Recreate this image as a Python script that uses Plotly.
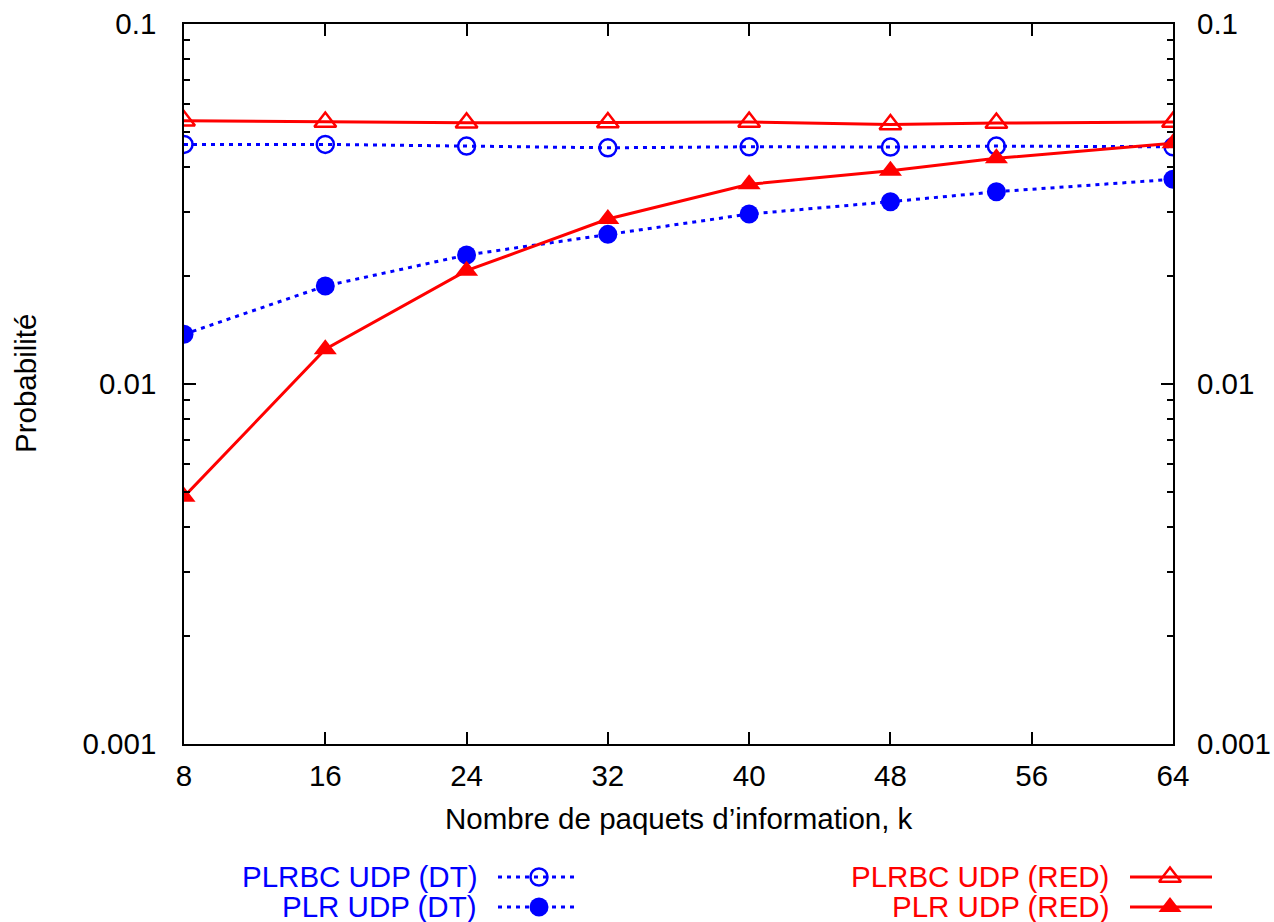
import plotly.graph_objects as go

# ---------------- data ----------------
k = [8, 16, 24, 32, 40, 48, 54, 64]
plrbc_dt = [0.0463, 0.0463, 0.0458, 0.0453, 0.0456, 0.0455, 0.0458, 0.0456]
plr_dt = [0.01374, 0.01872, 0.02282, 0.02604, 0.02966, 0.03209, 0.03420, 0.03703]
plrbc_red = [0.05385, 0.05340, 0.05316, 0.05323, 0.05340, 0.05256, 0.05309, 0.05340]
plr_red = [0.004863, 0.01249, 0.02064, 0.02872, 0.03586, 0.03913, 0.04236, 0.04662]

x_ticks = [8, 16, 24, 32, 40, 48, 56, 64]
y_ticks = [0.001, 0.01, 0.1]
y_ticktext = ["0.001", "0.01", "0.1"]
y_minor = [m * 10 ** e for e in (-3, -2) for m in range(2, 10)]

x_title = "Nombre de paquets d\u2019information, k"
y_title = "Probabilité"
legend_names = ["PLRBC UDP (DT)", "PLR UDP (DT)", "PLRBC UDP (RED)", "PLR UDP (RED)"]

# ---------------- layout geometry (pixels) ----------------
W, H = 1274, 922
PL, PR, PT, PB = 184, 1173, 24, 744
FONT = "Liberation Sans, Arial, sans-serif"
FS = 29.5
BLUE = "#0000ff"
RED = "#ff0000"


def fx(px):
    return px / W


def fy(py):
    return (H - py) / H


blue_line = dict(color=BLUE, width=3, dash="4px,5px")
red_line = dict(color=RED, width=3)

m_circ_open = dict(symbol="circle-open", size=17, color=BLUE, line=dict(width=2.5, color=BLUE))
m_circ = dict(symbol="circle", size=19, color=BLUE)
m_tri_open = dict(symbol="triangle-up-open", size=19, color=RED, line=dict(width=2.5, color=RED))
m_tri = dict(symbol="triangle-up", size=20, color=RED)

fig = go.Figure()

fig.add_trace(go.Scatter(x=k, y=plrbc_dt, mode="lines+markers", line=blue_line,
                         marker=m_circ_open, showlegend=False))
fig.add_trace(go.Scatter(x=k, y=plr_dt, mode="lines+markers", line=blue_line,
                         marker=m_circ, showlegend=False))
fig.add_trace(go.Scatter(x=k, y=plrbc_red, mode="lines+markers", line=red_line,
                         marker=m_tri_open, showlegend=False))
fig.add_trace(go.Scatter(x=k, y=plr_red, mode="lines+markers", line=red_line,
                         marker=m_tri, showlegend=False))
# invisible trace to activate right axis
fig.add_trace(go.Scatter(x=k, y=plr_dt, mode="lines", line=dict(width=0),
                         opacity=0, yaxis="y2", showlegend=False, hoverinfo="skip"))

# ---------------- custom legend (x3/y3 in pixel units) ----------------
leg_rows = [H - 877, H - 907]
leg_specs = [
    (legend_names[0], BLUE, blue_line, m_circ_open, 479, 498, 539, 576, leg_rows[0]),
    (legend_names[1], BLUE, blue_line, m_circ, 479, 498, 539, 576, leg_rows[1]),
    (legend_names[2], RED, red_line, m_tri_open, 1111, 1130, 1170, 1212, leg_rows[0]),
    (legend_names[3], RED, red_line, m_tri, 1111, 1130, 1170, 1212, leg_rows[1]),
]
annotations = []
for name, col, ln, mk, tx, x0, xm, x1, yr in leg_specs:
    fig.add_trace(go.Scatter(x=[x0, x1], y=[yr, yr], mode="lines", line=ln,
                             xaxis="x3", yaxis="y3", showlegend=False, hoverinfo="skip"))
    fig.add_trace(go.Scatter(x=[xm], y=[yr], mode="markers", marker=mk,
                             xaxis="x3", yaxis="y3", showlegend=False, hoverinfo="skip",
                             cliponaxis=False))
    annotations.append(dict(text=name, x=tx, y=yr, xref="x3", yref="y3",
                            xanchor="right", yanchor="middle", showarrow=False,
                            font=dict(family=FONT, size=FS, color=col)))

annotations.append(dict(text=x_title, x=fx((PL + PR) / 2), y=fy(818), xref="paper", yref="paper",
                        xanchor="center", yanchor="middle", showarrow=False,
                        font=dict(family=FONT, size=FS, color="black")))
annotations.append(dict(text=y_title, x=fx(25), y=fy((PT + PB) / 2), xref="paper", yref="paper",
                        xanchor="center", yanchor="middle", showarrow=False, textangle=-90,
                        font=dict(family=FONT, size=FS, color="black")))

tickfont = dict(family=FONT, size=FS, color="black")

fig.update_layout(
    width=W, height=H,
    margin=dict(l=0, r=0, t=0, b=0, autoexpand=False),
    paper_bgcolor="white", plot_bgcolor="rgba(0,0,0,0)",
    showlegend=False,
    annotations=annotations,
    xaxis=dict(domain=[fx(PL), fx(PR)], range=[8, 64], tickvals=x_ticks,
               ticks="inside", ticklen=12, tickwidth=1.5, tickcolor="black",
               showline=True, linewidth=1.5, linecolor="black", mirror="ticks",
               showgrid=False, zeroline=False, tickfont=tickfont, automargin=False,
               ticklabelstandoff=5, anchor="y"),
    yaxis=dict(domain=[fy(PB), fy(PT)], type="log", range=[-3, -1],
               tickvals=y_ticks, ticktext=y_ticktext,
               ticks="inside", ticklen=12, tickwidth=1.5, tickcolor="black",
               minor=dict(tickvals=y_minor, ticks="inside", ticklen=6, tickwidth=1.5,
                          tickcolor="black", showgrid=False),
               showline=True, linewidth=1.5, linecolor="black", mirror=True,
               showgrid=False, zeroline=False, tickfont=tickfont, automargin=False,
               ticklabelstandoff=20, anchor="x"),
    yaxis2=dict(overlaying="y", side="right", type="log", range=[-3, -1],
                tickvals=y_ticks, ticktext=y_ticktext,
                ticks="inside", ticklen=12, tickwidth=1.5, tickcolor="black",
                minor=dict(tickvals=y_minor, ticks="inside", ticklen=6, tickwidth=1.5,
                           tickcolor="black", showgrid=False),
                showline=False, showgrid=False, zeroline=False, tickfont=tickfont,
                automargin=False, ticklabelstandoff=23, anchor="x"),
    xaxis3=dict(domain=[0, 1], range=[0, W], visible=False, fixedrange=True,
                automargin=False, anchor="y3"),
    yaxis3=dict(domain=[0, 0.15], range=[0, 0.15 * H], visible=False, fixedrange=True,
                automargin=False, anchor="x3"),
)

fig.write_html("out.html", config={"displayModeBar": False},
               post_script="document.body.style.margin='0';document.body.style.overflow='hidden';")
